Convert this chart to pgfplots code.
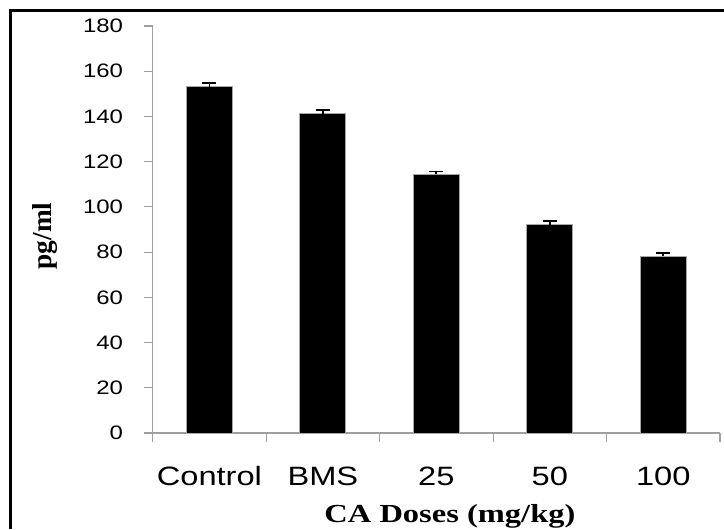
\documentclass[border=0pt]{standalone}
\usepackage{pgfplots}
\pgfplotsset{compat=1.18}
\usepackage{fontspec}
\setmainfont{Liberation Sans}
\newfontfamily\tickfont[FakeStretch=1.23]{Liberation Sans}
\newfontfamily\labfont[FakeStretch=1.25]{Liberation Serif}
\newfontfamily\ylabfont{Liberation Serif}
\begin{document}
\begin{tikzpicture}[x=1pt,y=1pt]
\useasboundingbox (0,0) rectangle (543,396.75);
\draw[line width=2pt] (7.7,0) -- (7.7,389) -- (543,389);
\begin{axis}[
  at={(114.5pt,72pt)}, anchor=south west,
  scale only axis, width=425.5pt, height=305.25pt,
  xmin=0.5, xmax=5.5, ymin=0, ymax=180,
  axis lines=left,
  axis line style={draw=gray!75, line width=0.8pt, -},
  ytick={0,20,...,180},
  tick align=outside,
  major tick length=6.75pt,
  tick style={draw=gray!75, line width=0.8pt},
  /pgf/number format/assume math mode=true,
  yticklabel style={font=\tickfont\fontsize{14.6}{16}\selectfont, anchor=east, xshift=-12pt},
  xtick={0.5,1.5,...,5.5},
  xticklabels={},
  extra x ticks={1,2,3,4,5},
  extra x tick labels={Control,BMS,25,50,100},
  extra x tick style={major tick length=0pt,
     tick label style={font=\tickfont\fontsize{19.9}{22}\selectfont, anchor=base, yshift=-39pt}},
  xlabel={\labfont\bfseries CA Doses (mg/kg)},
  xlabel style={font=\fontsize{19.5}{22}\selectfont, at={(rel axis cs:0.524,-0.221)}, anchor=base},
  ylabel={\ylabfont\bfseries pg/ml},
  ylabel style={font=\fontsize{20.5}{22}\selectfont, at={(rel axis cs:-0.19,0.484)}, anchor=center},
  clip=false,
]
\addplot[ybar, bar width=34.5pt, fill=black, draw=gray!70, line width=0.6pt,
  error bars/.cd, y dir=plus, y explicit,
  error bar style={black, line width=1.3pt},
  error mark options={black, line width=1.3pt, mark size=5.25pt, rotate=90}]
  coordinates {
  (1,153.2) +- (0,1.5)
  (2,141.2) +- (0,1.6)
  (3,114.4) +- (0,1.3)
  (4,92.1) +- (0,1.6)
  (5,78.2) +- (0,1.3)
};
\end{axis}
\end{tikzpicture}
\end{document}
